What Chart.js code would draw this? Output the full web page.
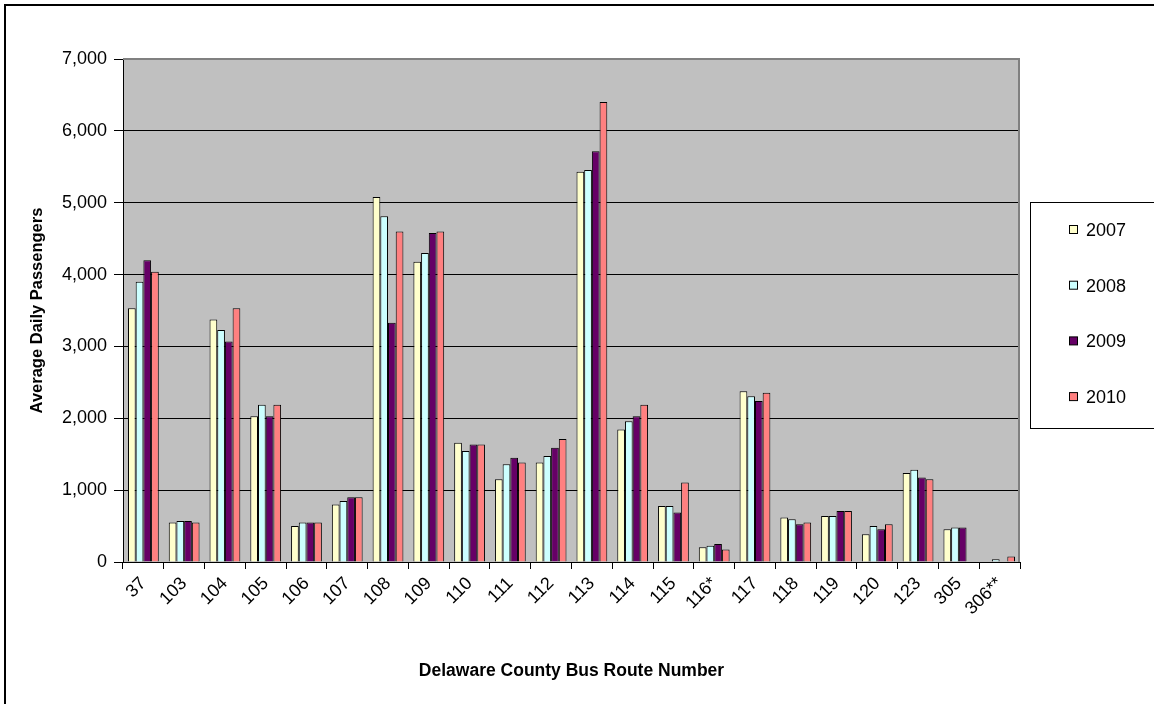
<!DOCTYPE html>
<html>
<head>
<meta charset="utf-8">
<script src="https://cdn.jsdelivr.net/npm/chart.js@4/dist/chart.umd.min.js"></script>
<style>
  html, body { margin: 0; padding: 0; background: #ffffff; }
  canvas { display: block; }
</style>
</head>
<body>
<canvas id="c" width="1154" height="704"></canvas>
<script>
// Delaware County bus routes
const routes = ['37','103','104','105','106','107','108','109','110','111','112','113','114','115','116*','117','118','119','120','123','305','306**'];

// Average daily passengers per year
const y2007 = [3530, 550, 3375, 2030, 500, 800, 5080, 4180, 1660, 1150, 1385, 5430, 1845, 780, 205, 2375, 620, 640, 385, 1240, 455, null];
const y2008 = [3900, 570, 3230, 2190, 550, 850, 4810, 4300, 1545, 1360, 1475, 5455, 1960, 780, 225, 2305, 595, 640, 500, 1285, 480, 40];
const y2009 = [4200, 570, 3070, 2030, 550, 900, 3330, 4580, 1635, 1450, 1590, 5715, 2030, 690, 250, 2240, 525, 710, 455, 1175, 480, null];
const y2010 = [4040, 550, 3530, 2190, 550, 900, 4600, 4600, 1635, 1385, 1710, 6400, 2190, 1105, 175, 2355, 550, 710, 525, 1150, null, 75];

const yearLabels = ['2007', '2008', '2009', '2010'];
const yearColors = ['#FFFFCC', '#CCFFFF', '#660066', '#FF8080'];
const yTicks = [0, 1000, 2000, 3000, 4000, 5000, 6000, 7000];

const FONT = "'Liberation Sans', Arial, sans-serif";
const PLOT_LEFT = 123, PLOT_BOTTOM = 562;

const series = [y2007, y2008, y2009, y2010];

// Page background, outer frame and grey plot area
const backdrop = {
  id: 'backdrop',
  beforeDraw(chart) {
    const { ctx, chartArea: a } = chart;
    ctx.save();
    ctx.fillStyle = '#ffffff';
    ctx.fillRect(0, 0, chart.width, chart.height);
    ctx.strokeStyle = '#000000';
    ctx.lineWidth = 2;
    ctx.strokeRect(5, 5, chart.width + 20, chart.height + 20);
    ctx.fillStyle = '#C0C0C0';
    ctx.fillRect(a.left, a.top, a.right - a.left, a.bottom - a.top);
    ctx.restore();
  },
  beforeDatasetsDraw(chart) {
    // grey frame on the top and right sides of the plot
    const { ctx, chartArea: a } = chart;
    ctx.save();
    ctx.strokeStyle = '#808080';
    ctx.lineWidth = 2;
    ctx.beginPath();
    ctx.moveTo(a.left, a.top);
    ctx.lineTo(a.right - 1, a.top);
    ctx.lineTo(a.right - 1, a.bottom);
    ctx.stroke();
    ctx.restore();
  }
};

// Boxed legend on the right
const yearLegend = {
  id: 'yearLegend',
  afterDraw(chart) {
    const { ctx } = chart;
    const boxX = 1030, boxY = 202, boxH = 226;
    ctx.save();
    ctx.fillStyle = '#ffffff';
    ctx.fillRect(boxX, boxY, chart.width - boxX + 10, boxH);
    ctx.strokeStyle = '#000000';
    ctx.lineWidth = 1;
    ctx.strokeRect(boxX + 0.5, boxY + 0.5, chart.width - boxX + 10, boxH);
    ctx.font = '18px ' + FONT;
    ctx.textBaseline = 'middle';
    ctx.textAlign = 'left';
    chart.data.datasets.forEach((ds, i) => {
      const cy = 230 + i * 55.7;
      ctx.fillStyle = ds.backgroundColor;
      ctx.fillRect(1069.5, cy - 4.5, 8, 8);
      ctx.strokeStyle = '#000000';
      ctx.strokeRect(1069.5, cy - 4.5, 8, 8);
      ctx.fillStyle = '#000000';
      ctx.fillText(ds.label, 1086, cy + 1);
    });
    ctx.restore();
  }
};

new Chart(document.getElementById('c'), {
  type: 'bar',
  data: {
    labels: routes,
    datasets: series.map((vals, i) => ({
      label: yearLabels[i],
      data: vals,
      backgroundColor: yearColors[i],
      borderColor: '#000000',
      borderWidth: 1,
      borderSkipped: 'start',
      barPercentage: 1.0,
      categoryPercentage: 0.755
    }))
  },
  options: {
    responsive: false,
    animation: false,
    devicePixelRatio: 1,
    layout: { padding: { top: 59, right: 134, left: 0, bottom: 0 } },
    plugins: {
      legend: { display: false },
      tooltip: { enabled: false }
    },
    scales: {
      x: {
        afterFit(scale) { scale.height = 704 - PLOT_BOTTOM; },
        grid: {
          display: true,
          drawOnChartArea: false,
          drawTicks: true,
          tickLength: 7,
          color: '#000000',
          offset: true
        },
        border: { display: true, color: '#000000', width: 1 },
        ticks: {
          autoSkip: false,
          minRotation: 45,
          maxRotation: 45,
          padding: 4,
          color: '#000000',
          font: { family: FONT, size: 18 }
        },
        title: {
          display: true,
          text: 'Delaware County Bus Route Number',
          color: '#000000',
          font: { family: FONT, size: 17.5, weight: 'bold' },
          padding: { top: 0, bottom: 22 }
        }
      },
      y: {
        min: 0,
        max: 7000,
        afterFit(scale) { scale.width = PLOT_LEFT; },
        afterBuildTicks(scale) { scale.ticks = yTicks.map(v => ({ value: v })); },
        grid: {
          color: '#000000',
          lineWidth: 1,
          tickLength: 9,
          drawTicks: true
        },
        border: { display: true, color: '#000000', width: 1 },
        ticks: {
          padding: 7,
          color: '#000000',
          font: { family: FONT, size: 18 },
          callback: v => v.toLocaleString('en-US')
        },
        title: {
          display: true,
          text: 'Average Daily Passengers',
          color: '#000000',
          font: { family: FONT, size: 16.5, weight: 'bold' },
          padding: { top: 28, bottom: 0 }
        }
      }
    }
  },
  plugins: [backdrop, yearLegend]
});
</script>
</body>
</html>
